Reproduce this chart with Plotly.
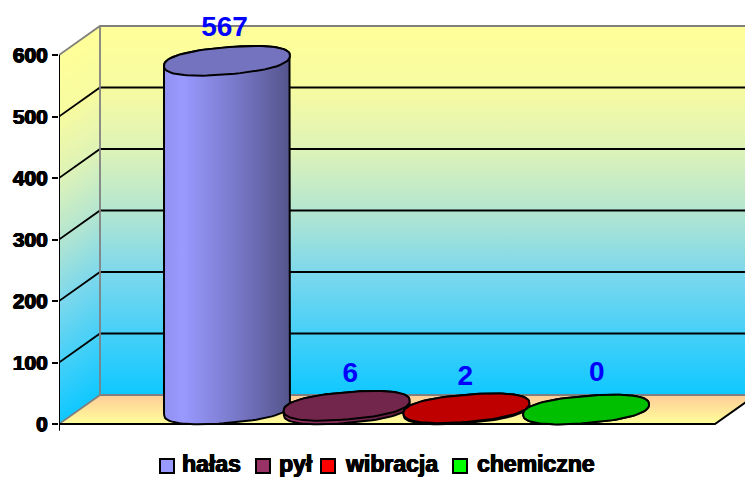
import numpy as np
import plotly.graph_objects as go

CATEGORIES = ["hałas", "pył", "wibracja", "chemiczne"]
VALUES = [567, 6, 2, 0]
Y_TICKS = [0, 100, 200, 300, 400, 500, 600]
BASE_COLORS = [(153, 153, 255), (153, 51, 102), (255, 0, 0), (0, 255, 0)]
LABEL_DX = [-0.02, 0.03, -0.01, 0.09]
LABEL_DY = [52, 50, 49, 57]

W, H = 745, 477
ML, MR, MT, MB = 59, 0, 10, 27
LEGEND_SWATCH_PX = [160, 256, 321, 453]
LEGEND_TEXT_PX = [180, 277, 343, 475]
LEGEND_SWATCH_Y_PX = 466
LEGEND_TEXT_Y_PX = 463.5

X_MIN, X_MAX = -1.232, 4.499
X_FLOOR_END = 4.248
Y_MIN, Y_MAX = -42.28, 673.17
DX, DY = 0.3425, 47.15
RX, RY = 0.526, 22.0
SHEAR = 0.08 * 119.7 / 0.615
WALL_STOPS = [(0, (15, 200, 255)), (1 / 6, (70, 208, 248)), (2 / 6, (125, 216, 236)),
              (3 / 6, (180, 230, 208)), (4 / 6, (222, 243, 184)), (5 / 6, (247, 251, 160)),
              (1, (255, 255, 153))]
FLOOR_BACK = "#FFCC99"
FLOOR_FRONT = "#FFFF99"
GRAY = "#808080"
FONT = "Liberation Sans"
HEAVY = "0.7px 0 0 black, -0.6px 0 0 black, 0 0.4px 0 black, 0 -0.3px 0 black"


def rgb(c):
    return "rgb(%d,%d,%d)" % tuple(round(v) for v in c)


def shade(c, f):
    return rgb([v * f for v in c])


def wall(t):
    xs = [s[0] for s in WALL_STOPS]
    return rgb([np.interp(t, xs, [s[1][k] for s in WALL_STOPS]) for k in range(3)])


def ell(i, v, t):
    cx = i + DX / 2
    cy = v + DY / 2
    c, s = np.cos(t), np.sin(t)
    dx = RX * np.sign(c) * np.abs(c) ** 0.85
    dy = RY * np.sign(s) * np.abs(s) ** 0.85
    return cx + dx, cy + dy + SHEAR * dx


def paper_x(px):
    return (px - ML) / (W - ML - MR)


def paper_y(py):
    return (H - MB - py) / (H - MT - MB)


fig = go.Figure()
top = Y_TICKS[-1]

# back wall
fig.add_trace(go.Scatter(
    x=[X_MIN + DX, X_MAX + 1, X_MAX + 1, X_MIN + DX, X_MIN + DX],
    y=[DY, DY, top + DY, top + DY, DY],
    mode="lines", line=dict(width=0), fill="toself", showlegend=False, hoverinfo="skip",
    fillgradient=dict(type="vertical", colorscale=[[s[0], rgb(s[1])] for s in WALL_STOPS]),
))
# floor
fig.add_trace(go.Scatter(
    x=[X_MIN, X_FLOOR_END, X_FLOOR_END + DX, X_MIN + DX, X_MIN],
    y=[0, 0, DY, DY, 0],
    mode="lines", line=dict(width=0), fill="toself", showlegend=False, hoverinfo="skip",
    fillgradient=dict(type="vertical", colorscale=[[0, FLOOR_FRONT], [1, FLOOR_BACK]]),
))
# grid lines on side and back wall
gx, gy = [], []
for t in Y_TICKS[1:-1]:
    gx += [X_MIN, X_MIN + DX, X_MAX + 1, None]
    gy += [t, t + DY, t + DY, None]
fig.add_trace(go.Scatter(x=gx, y=gy, mode="lines", line=dict(color="black", width=1.8),
                         showlegend=False, hoverinfo="skip"))
# gray wall frame
fig.add_trace(go.Scatter(
    x=[X_MIN, X_MIN + DX, X_MAX + 1, None, X_MIN + DX, X_MIN + DX, None, X_MIN, X_MIN + DX, X_MAX + 1],
    y=[top, top + DY, top + DY, None, top + DY, DY, None, 0, DY, DY],
    mode="lines", line=dict(color=GRAY, width=1.8), showlegend=False, hoverinfo="skip",
))
# front floor edges + axis
fig.add_trace(go.Scatter(
    x=[X_MIN, X_MIN, None, X_MIN, X_FLOOR_END, X_FLOOR_END + DX],
    y=[top, -11, None, 0, 0, DY],
    mode="lines", line=dict(color="black", width=2), showlegend=False, hoverinfo="skip",
    cliponaxis=False,
))

# cylinders
tt = np.linspace(0, 2 * np.pi, 90)
lower = np.linspace(np.pi, 2 * np.pi, 50)
upper = np.linspace(0, np.pi, 50)
for i, (name, v, col) in enumerate(zip(CATEGORIES, VALUES, BASE_COLORS)):
    bx, by = ell(i, 0, lower)
    ux, uy = ell(i, v, upper)
    fig.add_trace(go.Scatter(
        x=np.r_[bx, ux, bx[0]], y=np.r_[by, uy, by[0]], name=name,
        mode="lines", line=dict(color="black", width=2), fill="toself",
        showlegend=False, hoverinfo="skip",
        fillgradient=dict(type="horizontal", colorscale=[
            [0, shade(col, .95)], [0.15, rgb(col)], [0.55, shade(col, .8)], [1, shade(col, .55)]]),
    ))
    ex, ey = ell(i, v, tt)
    fig.add_trace(go.Scatter(
        x=ex, y=ey, name=name, mode="lines", line=dict(color="black", width=2), fill="toself",
        fillcolor=shade(col, .75), showlegend=False, hoverinfo="skip",
    ))

# data labels
fig.add_trace(go.Scatter(
    x=[i + DX / 2 + d for i, d in enumerate(LABEL_DX)],
    y=[v + DY / 2 + d for v, d in zip(VALUES, LABEL_DY)],
    text=[str(v) for v in VALUES], mode="text", textposition="middle center",
    textfont=dict(family=FONT, size=28, color="#0000FF", weight="bold"),
    showlegend=False, hoverinfo="skip", cliponaxis=False,
))

# side wall with skewed gradient
N = 80
shapes = []
for k in range(N):
    a, b = k / N * top, (k + 1) / N * top
    c = wall((k + .5) / N)
    shapes.append(dict(
        type="path", xref="x", yref="y", layer="below",
        path=f"M {X_MIN} {a} L {X_MIN + DX} {a + DY} L {X_MIN + DX} {b + DY} L {X_MIN} {b} Z",
        fillcolor=c, line=dict(color=c, width=1.5),
    ))

# legend row
annotations = []
for name, col, sx, tx in zip(CATEGORIES, BASE_COLORS, LEGEND_SWATCH_PX, LEGEND_TEXT_PX):
    shapes.append(dict(
        type="rect", xref="paper", yref="paper",
        x0=paper_x(sx), x1=paper_x(sx + 14),
        y0=paper_y(LEGEND_SWATCH_Y_PX + 7), y1=paper_y(LEGEND_SWATCH_Y_PX - 7),
        fillcolor=rgb(col), line=dict(color="black", width=2),
    ))
    annotations.append(dict(
        text=name, xref="paper", yref="paper", x=paper_x(tx), y=paper_y(LEGEND_TEXT_Y_PX),
        xanchor="left", yanchor="middle", showarrow=False,
        font=dict(family=FONT, size=23, color="black", weight="bold", shadow=HEAVY),
    ))

fig.update_layout(
    width=W, height=H, autosize=False,
    margin=dict(l=ML, r=MR, t=MT, b=MB, autoexpand=False),
    paper_bgcolor="white", plot_bgcolor="white",
    shapes=shapes, annotations=annotations,
    xaxis=dict(range=[X_MIN, X_MAX], visible=False, fixedrange=True),
    yaxis=dict(range=[Y_MIN, Y_MAX], tickmode="array", tickvals=Y_TICKS,
               ticktext=[str(t) for t in Y_TICKS], showgrid=False, zeroline=False,
               ticks="outside", ticklen=6, tickwidth=2, tickcolor="black", showline=False,
               tickfont=dict(family=FONT, size=21, color="black", weight="bold", shadow=HEAVY)),
    showlegend=False,
)
fig.write_html("out.html", config={"displayModeBar": False},
               post_script="document.body.style.margin='0';document.body.style.overflow='hidden';")
